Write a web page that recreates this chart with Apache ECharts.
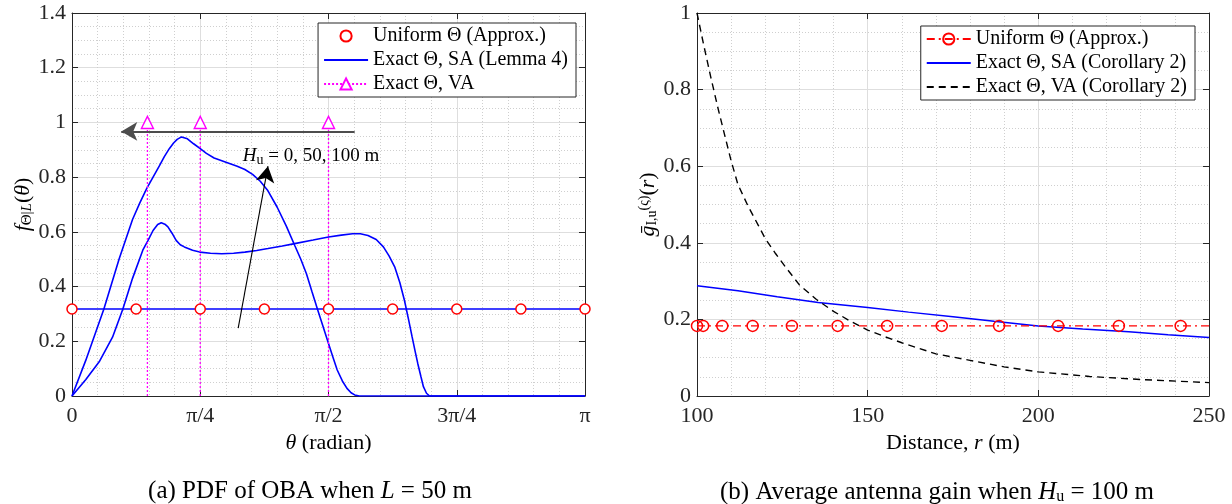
<!DOCTYPE html>
<html><head><meta charset="utf-8">
<script src="https://cdn.jsdelivr.net/npm/echarts@6/dist/echarts.min.js"></script>
<style>html,body{margin:0;padding:0;background:#fff}#c{width:1232px;height:504px}</style>
</head><body><div id="c"></div>
<script>
// ---------- (a) PDF of OBA, x in units of pi ----------
const thetaTickLabels = ['0', 'π/4', 'π/2', '3π/4', 'π'];
const saThetaFlat = [0, 1];
const saPdfFlat = [0.318, 0.318];
const saThetaMid = [0,0.027,0.053,0.079,0.099,0.118,0.138,0.148,0.158,0.167,0.174,0.181,0.187,0.195,0.203,0.211,0.219,0.235,0.249,0.27,0.292,0.315,0.337,0.36,0.382,0.41,0.434,0.47,0.5,0.525,0.547,0.562,0.577,0.593,0.607,0.618,0.629,0.639,0.648,0.656,0.663,0.669,0.674,0.68,0.685,0.691,0.697,1];
const saPdfMid = [0,0.06,0.125,0.215,0.317,0.43,0.533,0.568,0.605,0.627,0.633,0.628,0.618,0.595,0.569,0.553,0.545,0.533,0.526,0.522,0.52,0.522,0.526,0.532,0.539,0.548,0.557,0.57,0.581,0.588,0.593,0.593,0.587,0.572,0.545,0.512,0.472,0.415,0.35,0.28,0.216,0.162,0.119,0.072,0.034,0.01,0,0];
const saThetaHigh = [0,0.027,0.062,0.092,0.118,0.132,0.146,0.158,0.17,0.18,0.19,0.198,0.205,0.2135,0.225,0.237,0.25,0.262,0.277,0.292,0.307,0.322,0.337,0.352,0.367,0.382,0.4,0.418,0.434,0.446,0.457,0.468,0.479,0.49,0.5,0.509,0.517,0.527,0.536,0.544,0.551,0.56,1];
const saPdfHigh = [0,0.131,0.317,0.502,0.645,0.705,0.76,0.80,0.84,0.875,0.905,0.925,0.938,0.947,0.94,0.922,0.904,0.887,0.87,0.86,0.85,0.84,0.828,0.81,0.785,0.75,0.69,0.62,0.551,0.5,0.447,0.38,0.314,0.25,0.192,0.14,0.095,0.055,0.028,0.012,0.004,0,0];
const vaTheta = [0.147, 0.25, 0.5];
const vaPdf = [1, 1, 1];
const uniTheta = [0, 0.125, 0.25, 0.375, 0.5, 0.625, 0.75, 0.875, 1];
const uniPdf = [0.318, 0.318, 0.318, 0.318, 0.318, 0.318, 0.318, 0.318, 0.318];

// ---------- (b) Average antenna gain ----------
const uniR = [100,101.8,107.4,116.3,127.8,141.2,155.7,171.7,188.5,205.8,223.6,241.7,250];
const uniGain = [0.183,0.183,0.183,0.183,0.183,0.183,0.183,0.183,0.183,0.183,0.183,0.183,0.183];
const uniMarked = [1,1,1,1,1,1,1,1,1,1,1,1,0];
const saR = [100,112,123.5,135.5,150,162,175,187,200,213,226.5,238,250];
const saGain = [0.288,0.275,0.259,0.244,0.231,0.219,0.207,0.195,0.183,0.175,0.168,0.16,0.153];
const vaR = [100,102,104,106,108,110,112,115,118,120,123,126,130,135,140,145,150,155,160,170,180,190,200,215,230,250];
const vaGain = [1.0,0.915,0.834,0.757,0.685,0.614,0.552,0.495,0.445,0.411,0.372,0.336,0.29,0.252,0.221,0.195,0.172,0.155,0.139,0.11,0.093,0.076,0.063,0.051,0.043,0.035];

const nameUniA = 'Uniform Θ (Approx.)';
const nameSaA = 'Exact Θ, SA (Lemma 4)';
const nameVaA = 'Exact Θ, VA';
const nameUniB = 'Uniform Θ (Approx.)#b';
const nameSaB = 'Exact Θ, SA (Corollary 2)';
const nameVaB = 'Exact Θ, VA (Corollary 2)';

const FONT = 'Liberation Serif';
const AX = '#262626';
const zip = (xs, ys) => xs.map((x, i) => [x, ys[i]]);

const tickRich = {t: {fontFamily: FONT, fontSize: 22, color: AX}};
function axis(o, main) {
  const a = {
    type: 'value', scale: false,
    axisLine: {show: true, onZero: false, lineStyle: {color: AX, width: 1}},
    axisTick: {show: true, inside: true, length: 6, lineStyle: {color: AX, width: 1}},
    axisLabel: {show: main},
    splitLine: {show: main, lineStyle: {color: '#dedede', width: 1}},
    minorTick: {show: false, splitNumber: 5},
    minorSplitLine: {show: main, lineStyle: {color: '#cfcfcf', width: 1, type: [1, 2]}}
  };
  return Object.assign(a, o);
}
const richBase = {
  it: {fontFamily: FONT, fontStyle: 'italic', fontSize: 22, color: '#000'},
  n: {fontFamily: FONT, fontSize: 22, color: '#000'}
};
const nameStyle = (extra) => ({fontFamily: FONT, fontSize: 22, color: '#000', rich: Object.assign({}, richBase, extra || {})});
const tickLabel = (margin, fmt) => ({show: true, color: AX, fontFamily: FONT, fontSize: 22, margin,
  formatter: v => '{t|' + fmt(v) + '}', rich: tickRich});

const xAxes = [
  axis({gridIndex: 0, position: 'bottom', min: 0, max: 1, interval: 0.25,
    axisLabel: tickLabel(9, v => thetaTickLabels[Math.round(v / 0.25)]),
    name: '{it|θ} (radian)', nameLocation: 'middle', nameGap: 31, nameTextStyle: nameStyle()}, true),
  axis({gridIndex: 0, position: 'top', min: 0, max: 1, interval: 0.25}, false),
  axis({gridIndex: 1, position: 'bottom', min: 100, max: 250, interval: 50,
    axisLabel: tickLabel(9, v => String(v)),
    name: 'Distance, {it|r} (m)', nameLocation: 'middle', nameGap: 31, nameTextStyle: nameStyle()}, true),
  axis({gridIndex: 1, position: 'top', min: 100, max: 250, interval: 50}, false)
];
xAxes[0].minorTick.splitNumber = 5; xAxes[2].minorTick.splitNumber = 5;
const yFmt = v => String(Math.round(v * 10) / 10);
const yAxes = [
  axis({gridIndex: 0, position: 'left', min: 0, max: 1.4, interval: 0.2,
    axisLabel: tickLabel(6, yFmt),
    name: '{it|f}{sub|Θ|}{subi|L}{n|(}{it|θ}{n|)}', nameLocation: 'middle', nameRotate: 90, nameGap: 30,
    nameTextStyle: nameStyle({
      sub: {fontFamily: FONT, fontSize: 15, color: '#000', verticalAlign: 'bottom', lineHeight: 14},
      subi: {fontFamily: FONT, fontStyle: 'italic', fontSize: 15, color: '#000', verticalAlign: 'bottom', lineHeight: 14}
    })}, true),
  axis({gridIndex: 0, position: 'right', min: 0, max: 1.4, interval: 0.2}, false),
  axis({gridIndex: 1, position: 'left', min: 0, max: 1, interval: 0.2,
    axisLabel: tickLabel(6, yFmt),
    name: '{it|ḡ}{sub|I,u}{sup|(ς)}{n|(}{it|r}{n|)}', nameLocation: 'middle', nameRotate: 90, nameGap: 32,
    nameTextStyle: nameStyle({
      sup: {fontFamily: FONT, fontSize: 14, color: '#000', verticalAlign: 'top', lineHeight: 12},
      sub: {fontFamily: FONT, fontSize: 14, color: '#000', verticalAlign: 'bottom', lineHeight: 12}
    })}, true),
  axis({gridIndex: 1, position: 'right', min: 0, max: 1, interval: 0.2}, false)
];
yAxes.forEach(a => a.minorTick.splitNumber = 4);

const BLUE = '#0000ff', RED = '#ff0000', MAG = '#ff00ff';
const blueLine = (name, data) => ({
  name, type: 'line', xAxisIndex: 0, yAxisIndex: 0, data, symbol: 'none', showSymbol: false,
  lineStyle: {color: BLUE, width: 1.6}, itemStyle: {color: BLUE}, z: 2
});

const vaData = [];
vaTheta.forEach((t, i) => {
  vaData.push({value: [t, 0], symbol: 'none'});
  vaData.push({value: [t, vaPdf[i]], symbol: 'triangle'});
  vaData.push({value: [t, '-'], symbol: 'none'});
});

const series = [
  blueLine(nameSaA, zip(saThetaFlat, saPdfFlat)),
  blueLine(nameSaA, zip(saThetaMid, saPdfMid)),
  blueLine(nameSaA, zip(saThetaHigh, saPdfHigh)),
  {
    name: nameVaA, type: 'line', xAxisIndex: 0, yAxisIndex: 0, data: vaData, connectNulls: false,
    symbol: 'triangle', symbolSize: 12, showSymbol: true,
    lineStyle: {color: MAG, width: 1.3, type: [2, 2]},
    itemStyle: {color: '#fff', borderColor: MAG, borderWidth: 1.4}, z: 3
  },
  {
    name: nameUniA, type: 'line', xAxisIndex: 0, yAxisIndex: 0, data: zip(uniTheta, uniPdf),
    symbol: 'circle', symbolSize: 10, showSymbol: true,
    lineStyle: {color: RED, width: 1, opacity: 0},
    itemStyle: {color: '#fff', borderColor: RED, borderWidth: 1.5}, z: 4
  },
  {
    // annotation arrows and text in panel (a)
    type: 'line', xAxisIndex: 0, yAxisIndex: 0, data: [], z: 5, silent: true,
    markLine: {
      silent: true, animation: false, symbol: ['none', 'arrow'], symbolSize: [14, 16],
      label: {show: false},
      data: [
        [{coord: [0.551, 0.967], lineStyle: {color: '#4d4d4d', width: 2, type: 'solid'}},
         {coord: [0.096, 0.967]}],
        [{coord: [0.324, 0.248], lineStyle: {color: '#000', width: 1.1, type: 'solid'}},
         {coord: [0.382, 0.84]}]
      ]
    },
    markPoint: {
      silent: true, animation: false, symbol: 'circle', symbolSize: 1, itemStyle: {color: 'rgba(0,0,0,0)'},
      data: [{coord: [0.332, 0.878]}],
      label: {show: true, position: 'right', distance: 0, formatter: '{it|H}{sub|u}{n| = 0, 50, 100 m}',
        rich: {
          it: {fontFamily: FONT, fontStyle: 'italic', fontSize: 19, color: '#000', lineHeight: 24},
          n: {fontFamily: FONT, fontSize: 19, color: '#000', lineHeight: 24},
          sub: {fontFamily: FONT, fontSize: 14, color: '#000', verticalAlign: 'bottom', lineHeight: 14}
        }}
    }
  },
  // panel (b)
  {
    name: nameUniB, type: 'line', xAxisIndex: 2, yAxisIndex: 2,
    data: uniR.map((r, i) => ({value: [r, uniGain[i]], symbol: uniMarked[i] ? 'circle' : 'none'})),
    symbol: 'circle', symbolSize: 11, showSymbol: true,
    lineStyle: {color: RED, width: 1.4, type: [8, 4, 2, 4]},
    itemStyle: {color: 'rgba(255,255,255,0)', borderColor: RED, borderWidth: 1.5}, z: 4
  },
  {
    name: nameSaB, type: 'line', xAxisIndex: 2, yAxisIndex: 2, data: zip(saR, saGain), smooth: false,
    symbol: 'none', showSymbol: false, lineStyle: {color: BLUE, width: 1.5}, itemStyle: {color: BLUE}, z: 3
  },
  {
    name: nameVaB, type: 'line', xAxisIndex: 2, yAxisIndex: 2, data: zip(vaR, vaGain),
    symbol: 'none', showSymbol: false, lineStyle: {color: '#000', width: 1.4, type: [7, 5]}, itemStyle: {color: '#000'}, z: 3
  }
];

const legendBase = {
  orient: 'vertical', backgroundColor: '#fff', borderColor: AX, borderWidth: 1,
  padding: [3, 8, 3, 5], itemGap: 4, itemWidth: 44, itemHeight: 14, selectedMode: false,
  textStyle: {fontFamily: FONT, fontSize: 20, color: '#000', lineHeight: 20},
  formatter: n => n.replace('#b', '')
};
const noSym = {opacity: 0};

const option = {
  animation: false,
  backgroundColor: '#fff',
  textStyle: {fontFamily: FONT},
  grid: [
    {left: 72, top: 13, width: 513, height: 383},
    {left: 697, top: 13, width: 512, height: 383}
  ],
  xAxis: xAxes,
  yAxis: yAxes,
  legend: [
    Object.assign({}, legendBase, {data: [nameUniA, {name: nameSaA, itemStyle: noSym}, nameVaA], right: 656, top: 23}),
    Object.assign({}, legendBase, {data: [nameUniB, {name: nameSaB, itemStyle: noSym}, {name: nameVaB, itemStyle: noSym}], right: 37, top: 26})
  ],
  title: [
    {text: '(a) PDF of OBA when {it|L} = 50 m', left: 305, top: 474, textAlign: 'center',
      textStyle: {fontFamily: FONT, fontSize: 25, fontWeight: 'normal', color: '#000',
        rich: {it: {fontFamily: FONT, fontStyle: 'italic', fontSize: 25, color: '#000'}}}},
    {text: '(b) Average antenna gain when {it|H}{sub|u} = 100 m', left: 932, top: 474, textAlign: 'center',
      textStyle: {fontFamily: FONT, fontSize: 25, fontWeight: 'normal', color: '#000',
        rich: {it: {fontFamily: FONT, fontStyle: 'italic', fontSize: 25, color: '#000', lineHeight: 26},
               sub: {fontFamily: FONT, fontSize: 16, color: '#000', verticalAlign: 'bottom', lineHeight: 14}}}}
  ],
  series
};
const chart = echarts.init(document.getElementById('c'));
chart.setOption(option);
</script>
</body></html>
